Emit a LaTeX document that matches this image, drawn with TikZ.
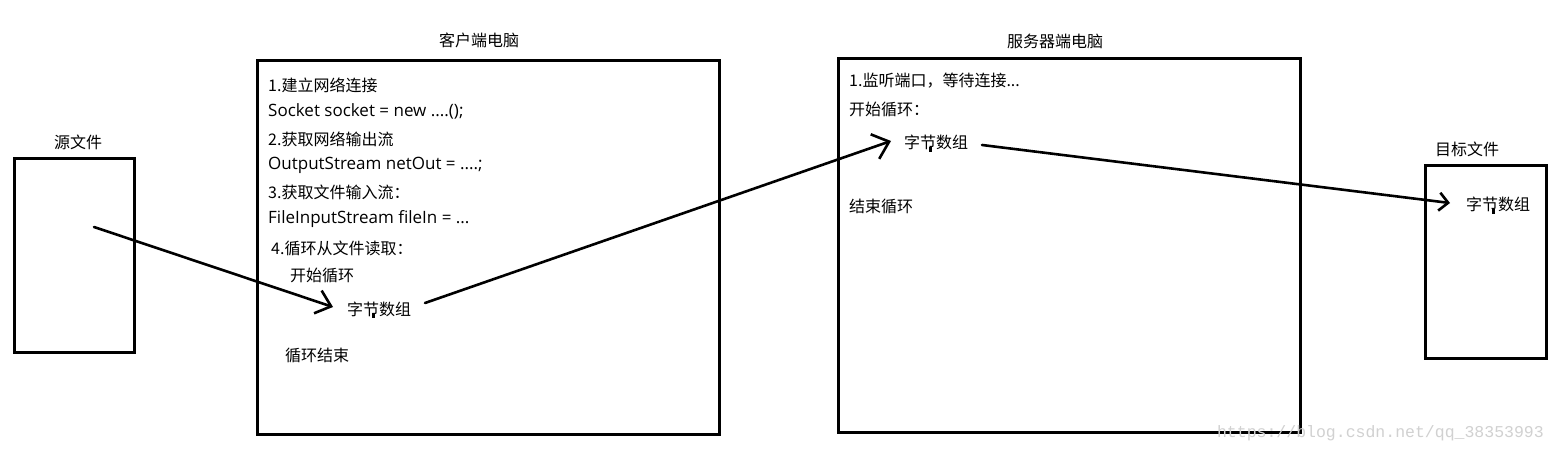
\documentclass[tikz,border=0pt]{standalone}
\usepackage{fontspec}
\setmainfont{Noto Sans CJK SC}
\newfontfamily\wmfont{Liberation Mono}
\newfontfamily\latinfont{Open Sans}
\usetikzlibrary{arrows.meta}
\begin{document}
\begin{tikzpicture}[x=1pt,y=-1pt,
  frame/.style={draw=black,line width=3pt,fill=none},
  txt/.style={anchor=west,inner sep=0pt,font=\fontsize{16}{16}\selectfont},
  ltxt/.style={anchor=west,inner sep=0pt,font=\latinfont\fontsize{17}{17}\selectfont},
  ttl/.style={inner sep=0pt,font=\fontsize{16}{16}\selectfont},
  conn/.style={line width=2.6pt,line cap=round}]
\useasboundingbox (0,0) rectangle (1554,454);
\fill[white] (0,0) rectangle (1554,454);
% boxes
\draw[frame] (14,159) rectangle (134,352);
\draw[frame] (257,61) rectangle (719,434);
\draw[frame] (838,59) rectangle (1300,432);
\draw[frame] (1425,166) rectangle (1546,358);
% titles
\node[ttl] (src) at (78,142) {源文件};
\node[ttl] (cli) at (479,40) {客户端电脑};
\node[ttl] (srv) at (1055,41) {服务器端电脑};
\node[ttl,anchor=west] (dst) at (1435,149) {目标文件};
% client text
\node[txt] (c1) at (268,85) {1.建立网络连接};
\node[ltxt] (c2) at (268,111) {Socket socket = new ....();};
\node[txt] (c3) at (268,139) {2.获取网络输出流};
\node[ltxt] (c4) at (268,165) {OutputStream netOut = ....;};
\node[txt] (c5) at (268,192) {3.获取文件输入流：};
\node[ltxt] (c6) at (268,219) {FileInputStream fileIn = ...};
\node[txt] (c7) at (271,248) {4.循环从文件读取：};
\node[txt] (c8) at (290,275) {开始循环};
\node[txt] (cb) at (347,309) {字节数组};
\node[txt] (c9) at (285,355) {循环结束};
% server text
\node[txt] (s1) at (849,81) {1.监听端口，等待连接...};
\node[txt] (s2) at (849,109) {开始循环：};
\node[txt] (sb) at (904,142) {字节数组};
\node[txt] (s3) at (849,206) {结束循环};
% target text
\node[txt] (db) at (1466,204) {字节数组};
% cursor marks
\fill (372,313) rectangle (375,318);
\fill (929,147) rectangle (932,152);
\fill (1492,209) rectangle (1495,214);
% connectors
\coordinate (a0) at (94,227);
\coordinate (a1) at (333,307);
\coordinate (b0) at (425,303);
\coordinate (b1) at (891,141);
\coordinate (d0) at (982,145);
\coordinate (d1) at (1450,203);
\draw[conn,-{Straight Barb[length=14pt,width=24pt,line width=2.6pt]}] (a0) -- (a1);
\draw[conn,-{Straight Barb[length=15pt,width=26pt,line width=2.6pt]}] (b0) -- (b1);
\draw[conn,-{Straight Barb[length=9pt,width=18pt,line width=2.6pt]}] (d0) -- (d1);
% watermark
\node[inner sep=0pt,anchor=east,text=black!18,font=\wmfont\fontsize{16.5}{17}\selectfont] (wm) at (1544,433) {https://blog.csdn.net/qq\_38353993};
\end{tikzpicture}
\end{document}
